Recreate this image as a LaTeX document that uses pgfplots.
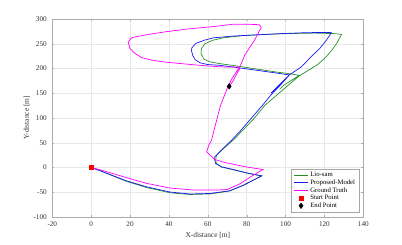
\documentclass[border=0pt]{standalone}
\usepackage{fontspec}
\setmainfont{Liberation Serif}
\usepackage{pgfplots}
\pgfplotsset{compat=1.18}
\definecolor{lgreen}{RGB}{40,145,40}
\definecolor{pblue}{RGB}{25,25,245}
\definecolor{gtmag}{RGB}{255,0,255}
\begin{document}
\begin{tikzpicture}[x=1pt,y=1pt]
\path[use as bounding box] (0,0) rectangle (402,244);
\begin{axis}[
 at={(52.3pt,27pt)}, anchor=south west,
 scale only axis, width=311pt, height=198pt,
 xmin=-20,xmax=140,ymin=-100,ymax=300,
 xtick={-20,0,...,140}, ytick={-100,-50,...,300},
 grid=major, grid style={gray!18, line width=0.4pt},
 axis line style={gray!65, line width=0.5pt}, tick style={gray!65},
 tick align=inside, major tick length=2pt,
 ticklabel style={font=\fontsize{7.2}{8}\selectfont, text=black!80},
 xticklabel style={yshift=-1.5pt},
 yticklabel style={xshift=-2pt},
 /pgf/number format/assume math mode=true,
 xlabel={X-distance [m]}, ylabel={Y-distance [m]},
 label style={font=\fontsize{7.4}{8}\selectfont, text=black!80},
 xlabel style={at={(axis description cs:0.5,-0.091)}, anchor=center},
 ylabel style={at={(axis description cs:-0.082,0.5)}, anchor=center},
 legend style={at={(axis description cs:0.987,0.025)}, anchor=south east,
   font=\fontsize{6.7}{7}\selectfont, draw=gray!70, inner xsep=2pt, inner ysep=1pt,
   row sep=-2.4pt, nodes={inner xsep=2pt}},
 legend cell align=left,
 legend image code/.code={\draw[mark repeat=2,mark phase=2,#1] plot coordinates {(0pt,0pt) (7pt,0pt) (14pt,0pt)};},
]
\addplot[lgreen, line width=0.7pt] coordinates {
(0,0) (5,-7) (9.6,-14.5) (18.2,-28) (28.5,-40.5) (40.5,-51) (50.8,-54.5) (61,-53.5) (71.3,-47.5) (78.2,-36) (87.7,-17) (80,-11) (73,-4.5) (67,1) (64.5,8) (64,15) (64.5,24.8) (68,38) (73,55) (78,75) (84,100) (89.4,125.9) (95.4,146) (101,165) (107,185) (112,197) (116.5,208) (120.5,222) (123.8,237) (126.5,252) (128.8,269) (125,270.5) (115,271.5) (100,270.5) (88,268.5) (78,266.5) (68,262) (62.5,257) (58.5,250) (56.7,240) (56.5,230) (58,219) (61,213.5) (66,210) (75,205) (85,199) (95,193) (103,189) (107,186) (103,176) (99,166) (97,158)
};
\addlegendentry{Lio-sam}
\addplot[pblue, line width=0.7pt] coordinates {
(0,0) (5,-7) (9.6,-14) (18.2,-27) (28.5,-39) (40.5,-49.5) (50.8,-53.5) (61,-52.5) (71.3,-47) (78.2,-36) (87.7,-17) (80,-11) (73,-4) (67,1.5) (64,8) (63.6,15) (63.6,21.5) (67,35) (72.2,55) (77,75) (82.5,100) (88,125) (92.8,148) (97,165) (102,187) (108,203) (114,227) (117.5,240) (121,257) (123.6,272.5) (118,272.8) (110,272.3) (98,270.5) (85,268) (73,265.5) (63,262) (58.5,257.5) (54,251) (51.8,242) (51.6,236) (52.3,226) (53.5,218) (56,211.5) (60,208) (66,206.5) (75,202) (85,196.5) (95,191) (102,187) (98,172) (95,160) (92.5,150)
};
\addlegendentry{Proposed-Model}
\addplot[gtmag, line width=0.7pt] coordinates {
(0,0) (5,-5) (9.6,-10.5) (18.2,-20.5) (28.5,-32) (40.5,-41.5) (52.5,-45.5) (64.5,-45.5) (70,-44.5) (76.5,-33) (82,-19) (88.3,-4) (80,1) (75,5) (69,10) (63.6,16) (59.4,31.6) (60.5,45) (61.9,55) (63,72) (64.5,95) (66.5,125) (68.5,145) (70.5,165) (72.5,180) (75,195) (77,208) (79,227) (81.5,242) (84,257) (86,272) (87.5,283) (86.5,288.5) (80,289.5) (73,289.5) (63.6,285) (50,280) (37.9,274) (28,268) (21,262.5) (19,254) (19.9,241) (22,232) (25.9,222) (31,217) (37.9,213) (46,210) (55,206.8) (62,204.5) (68.8,203) (75.5,203) (76.5,200) (75,190) (73,175) (71,164)
};
\addlegendentry{Ground Truth}
\addplot[only marks, mark=square*, mark size=2pt, red] coordinates {(0,0)};
\addlegendentry{Start Point}
\addplot[only marks, mark=diamond*, mark size=2.8pt, black] coordinates {(71,164)};
\addlegendentry{End Point}
\end{axis}
\end{tikzpicture}
\end{document}
